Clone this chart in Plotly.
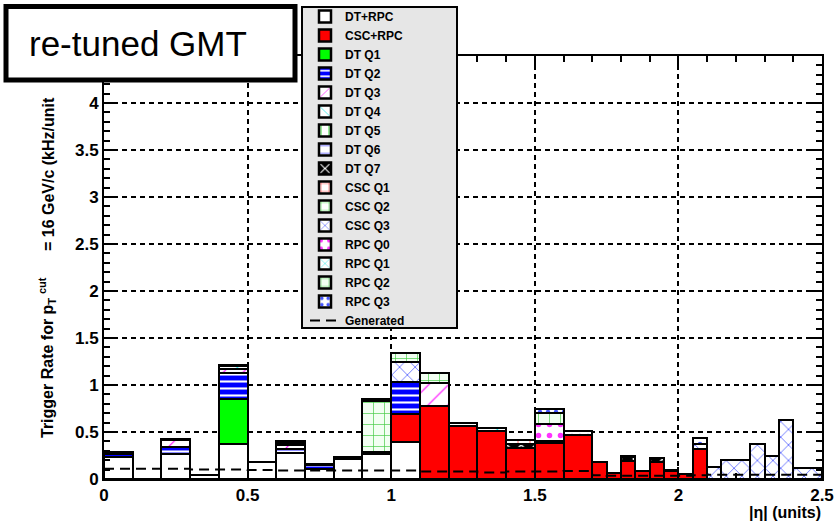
import plotly.graph_objects as go

# Canvas and frame geometry (pixels)
W, H = 834, 526
ML, MR, MT, MB = 104, 12, 56, 47
PW, PH = W - ML - MR, H - MT - MB

# |eta| bin edges of the trigger scale
edges = [0.0, 0.1, 0.2, 0.3, 0.4, 0.5, 0.6, 0.7, 0.8, 0.9, 1.0, 1.1, 1.2, 1.3,
         1.4, 1.5, 1.6, 1.7, 1.75, 1.8, 1.85, 1.9, 1.95, 2.0, 2.05, 2.1, 2.15,
         2.25, 2.3, 2.35, 2.4, 2.5]

# Rate contributions per bin (kHz/unit), stacked in this order
dt_rpc = [0.23, 0, 0.27, 0.04, 0.37, 0.18, 0.28, 0.11, 0.21, 0.27, 0.39, 0, 0, 0,
          0, 0, 0, 0, 0, 0, 0, 0, 0, 0, 0, 0, 0, 0, 0, 0, 0]
csc_rpc = [0, 0, 0, 0, 0, 0, 0, 0, 0, 0, 0.30, 0.78, 0.565, 0.51, 0.33, 0.38, 0.47,
           0.18, 0.06, 0.19, 0.08, 0.18, 0.08, 0.05, 0.32, 0, 0, 0, 0, 0, 0]
dt_q1 = [0, 0, 0, 0, 0.48, 0, 0, 0, 0, 0, 0, 0, 0, 0, 0, 0, 0, 0, 0, 0, 0, 0, 0,
         0, 0, 0, 0, 0, 0, 0, 0]
dt_q2 = [0.04, 0, 0.07, 0, 0.28, 0, 0.04, 0.04, 0, 0, 0.34, 0, 0, 0, 0, 0, 0, 0,
         0, 0, 0, 0, 0, 0, 0, 0, 0, 0, 0, 0, 0]
dt_q3 = [0, 0, 0.08, 0, 0.04, 0, 0.04, 0, 0, 0.02, 0, 0.24, 0, 0, 0, 0, 0, 0, 0,
         0, 0, 0, 0, 0, 0, 0, 0, 0, 0, 0, 0]
dt_q4 = [0.01, 0, 0, 0, 0.03, 0, 0.02, 0, 0, 0, 0, 0, 0, 0.03, 0, 0, 0, 0, 0, 0,
         0, 0, 0, 0, 0, 0, 0, 0, 0, 0, 0]
dt_q5 = [0, 0, 0, 0, 0, 0, 0, 0, 0, 0, 0, 0, 0, 0, 0, 0, 0, 0, 0, 0, 0, 0, 0, 0,
         0, 0, 0, 0, 0, 0, 0]
dt_q6 = [0.01, 0, 0.01, 0, 0.01, 0, 0.02, 0.01, 0, 0, 0, 0, 0.035, 0, 0, 0, 0, 0,
         0, 0, 0, 0, 0, 0, 0, 0, 0, 0, 0, 0, 0]
dt_q7 = [0, 0, 0, 0, 0, 0, 0, 0, 0.02, 0, 0, 0, 0, 0, 0.04, 0, 0, 0, 0, 0.04, 0,
         0.04, 0, 0, 0, 0, 0, 0, 0, 0, 0]
csc_q1 = [0, 0, 0, 0, 0, 0, 0, 0, 0, 0, 0, 0, 0, 0, 0.04, 0, 0, 0, 0, 0, 0, 0, 0,
          0, 0, 0, 0, 0, 0, 0, 0]
csc_q2 = [0, 0, 0, 0, 0, 0, 0, 0, 0, 0, 0, 0, 0, 0, 0, 0, 0, 0, 0, 0, 0, 0, 0, 0,
          0, 0, 0, 0, 0, 0, 0]
csc_q3 = [0, 0, 0, 0, 0, 0, 0, 0, 0, 0, 0.21, 0, 0, 0, 0, 0.02, 0, 0, 0, 0, 0.01,
          0, 0.02, 0, 0.05, 0.13, 0.20, 0.37, 0.245, 0.63, 0.12]
rpc_q0 = [0, 0, 0, 0, 0, 0, 0, 0, 0, 0, 0, 0, 0, 0, 0, 0.19, 0, 0, 0, 0, 0, 0, 0,
          0, 0, 0, 0, 0, 0, 0, 0]
rpc_q1 = [0, 0, 0, 0, 0, 0, 0, 0, 0, 0, 0, 0, 0, 0, 0, 0, 0, 0, 0, 0.02, 0, 0, 0,
          0, 0, 0, 0, 0, 0, 0, 0]
rpc_q2 = [0, 0, 0, 0, 0, 0, 0, 0, 0, 0.54, 0.10, 0.11, 0, 0, 0, 0.11, 0, 0, 0, 0,
          0, 0, 0, 0, 0, 0, 0, 0, 0, 0, 0]
rpc_q3 = [0, 0, 0, 0, 0, 0, 0, 0, 0, 0.02, 0, 0, 0, 0, 0, 0.04, 0.04, 0, 0, 0, 0,
          0, 0, 0, 0.07, 0, 0, 0, 0, 0, 0]

# Generated rate per bin
generated = [0.11, 0.11, 0.11, 0.10, 0.10, 0.095, 0.09, 0.09, 0.09, 0.09, 0.09,
             0.08, 0.08, 0.07, 0.08, 0.08, 0.085, 0.04, 0.035, 0.035, 0.035,
             0.035, 0.035, 0.035, 0.04, 0.045, 0.045, 0.045, 0.045, 0.045, 0.045]

x_ticks = [0, 0.5, 1, 1.5, 2, 2.5]
x_tick_text = ["0", "0.5", "1", "1.5", "2", "2.5"]
y_ticks = [0, 0.5, 1, 1.5, 2, 2.5, 3, 3.5, 4]
y_tick_text = ["0", "0.5", "1", "1.5", "2", "2.5", "3", "3.5", "4"]

centers = [(a + b) / 2 for a, b in zip(edges[:-1], edges[1:])]
widths = [b - a for a, b in zip(edges[:-1], edges[1:])]

FONT = "Liberation Sans, Arial, sans-serif"


def px(x):
    return (x - ML) / PW


def py(y):
    return (H - MB - y) / PH


def hatch(shape, fg, bg="white", size=10, solidity=0.12):
    return dict(shape=shape, fgcolor=fg, bgcolor=bg, size=size,
                solidity=solidity, fillmode="replace")


series = [
    ("DT+RPC", dt_rpc, "white", None),
    ("CSC+RPC", csc_rpc, "#ff0000", None),
    ("DT Q1", dt_q1, "#00ff00", None),
    ("DT Q2", dt_q2, "#0000ff", hatch("-", "white", "#0000ff", 7, 0.3)),
    ("DT Q3", dt_q3, "white", hatch("/", "#ff00ff", "white", 14, 0.08)),
    ("DT Q4", dt_q4, "white", hatch("\\", "#00e5e5", "white", 14, 0.08)),
    ("DT Q5", dt_q5, "white", hatch("|", "#00cc00", "white", 10, 0.1)),
    ("DT Q6", dt_q6, "white", hatch("-", "#3333ff", "white", 12, 0.1)),
    ("DT Q7", dt_q7, "black", hatch("x", "white", "black", 10, 0.25)),
    ("CSC Q1", csc_q1, "white", hatch("+", "#ff0000", "white", 12, 0.1)),
    ("CSC Q2", csc_q2, "white", hatch("+", "#33dd33", "white", 11, 0.12)),
    ("CSC Q3", csc_q3, "white", hatch("x", "#3344ff", "white", 11, 0.12)),
    ("RPC Q0", rpc_q0, "white", hatch(".", "#ff33ff", "white", 11, 0.2)),
    ("RPC Q1", rpc_q1, "white", hatch("x", "#00e5e5", "white", 14, 0.1)),
    ("RPC Q2", rpc_q2, "white", hatch("+", "#44cc44", "#f2fff2", 11, 0.12)),
    ("RPC Q3", rpc_q3, "white", hatch(".", "#4455ff", "white", 8, 0.25)),
]

fig = go.Figure()
for name, vals, color, pattern in series:
    marker = dict(color=color, line=dict(color="black", width=2.5))
    if pattern is not None:
        marker["pattern"] = pattern
    fig.add_trace(go.Bar(x=centers, y=vals, width=widths, name=name,
                         marker=marker, hoverinfo="skip"))

fig.add_trace(go.Scatter(
    x=edges, y=generated + [generated[-1]], mode="lines", name="Generated",
    line=dict(shape="hv", color="black", width=2, dash="10px,6px"),
    hoverinfo="skip"))

axis_common = dict(
    showline=True, linecolor="black", linewidth=2, mirror="ticks",
    ticks="inside", ticklen=12, tickwidth=1.5, tickcolor="black",
    showgrid=True, gridcolor="black", gridwidth=1.5, griddash="5px,4px",
    zeroline=False,
    tickfont=dict(family=FONT, size=17, color="black", weight="bold"),
)

fig.update_xaxes(range=[0, 2.5], tickvals=x_ticks, ticktext=x_tick_text,
                 minor=dict(ticks="inside", ticklen=6, tickcolor="black",
                            tick0=0, dtick=0.1, showgrid=False),
                 **axis_common)
fig.update_yaxes(range=[0, 4.5], tickvals=y_ticks, ticktext=y_tick_text,
                 minor=dict(ticks="inside", ticklen=6, tickcolor="black",
                            tick0=0, dtick=0.1, showgrid=False),
                 **axis_common)

shapes = [
    # legend frame
    dict(type="rect", xref="paper", yref="paper", layer="above",
         x0=px(302), x1=px(457), y0=py(328), y1=py(7),
         fillcolor="#e6e6e6", line=dict(color="black", width=2)),
    # label box
    dict(type="rect", xref="paper", yref="paper", layer="above",
         x0=px(6), x1=px(295), y0=py(80), y1=py(6.5),
         fillcolor="white", line=dict(color="black", width=5)),
]

annotations = [
    dict(text="re-tuned GMT", xref="paper", yref="paper", x=px(138), y=py(44),
         xanchor="center", yanchor="middle", showarrow=False,
         font=dict(family=FONT, size=35, color="black")),
    dict(text="|η| (units)", xref="paper", yref="paper", x=px(823), y=py(512),
         xanchor="right", yanchor="middle", showarrow=False,
         font=dict(family=FONT, size=16, color="black", weight="bold")),
    dict(text="Trigger Rate for p<sub>T</sub>", xref="paper", yref="paper",
         x=px(48), y=py(440), xanchor="center", yanchor="bottom",
         textangle=-90, showarrow=False,
         font=dict(family=FONT, size=16, color="black", weight="bold")),
    dict(text="cut", xref="paper", yref="paper",
         x=px(42), y=py(286), xanchor="center", yanchor="middle",
         textangle=-90, showarrow=False,
         font=dict(family=FONT, size=11, color="black", weight="bold")),
    dict(text=" = 16 GeV/c (kHz/unit", xref="paper", yref="paper",
         x=px(48), y=py(95), xanchor="center", yanchor="top",
         textangle=-90, showarrow=False,
         font=dict(family=FONT, size=16, color="black", weight="bold")),
]

fig.update_layout(
    width=W, height=H,
    margin=dict(l=ML, r=MR, t=MT, b=MB, pad=0, autoexpand=False),
    paper_bgcolor="white", plot_bgcolor="white",
    barmode="stack", bargap=0,
    showlegend=True,
    legend=dict(x=px(305), y=py(2), xanchor="left", yanchor="top",
                bgcolor="rgba(0,0,0,0)", borderwidth=0,
                traceorder="normal", maxheight=500,
                font=dict(family=FONT, size=12, color="black", weight="bold")),
    shapes=shapes, annotations=annotations,
)

fig.write_html("out.html")
